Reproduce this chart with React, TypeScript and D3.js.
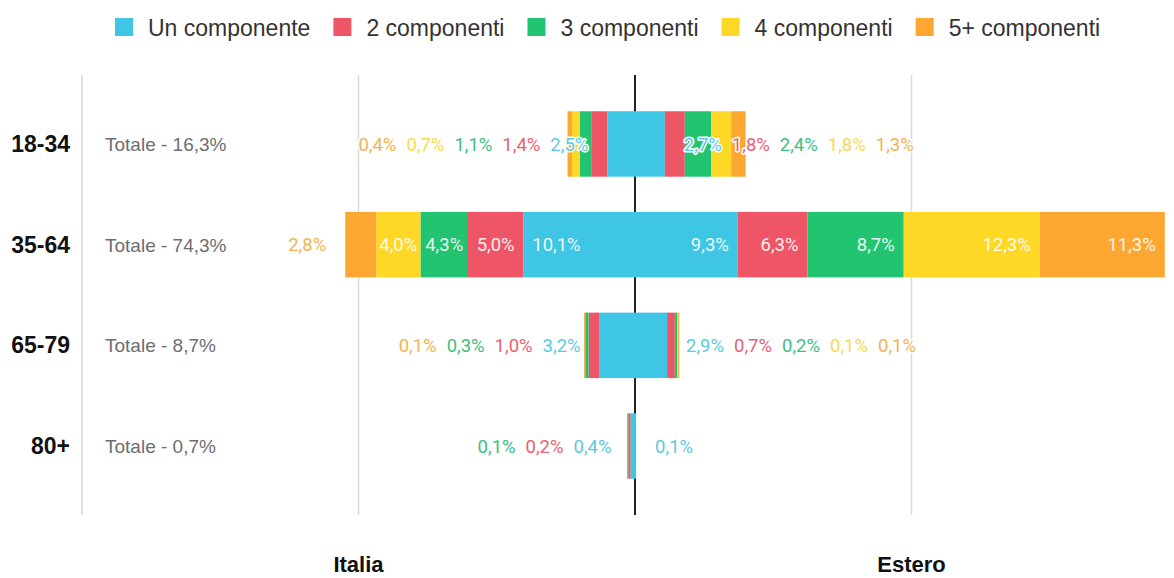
import React from "react";
import * as d3 from "d3";

const ageGroups = ["18-34", "35-64", "65-79", "80+"];
const totals = [16.3, 74.3, 8.7, 0.7];
const seriesNames = ["Un componente", "2 componenti", "3 componenti", "4 componenti", "5+ componenti"];
const seriesColors = ["#3EC6E4", "#EE5566", "#22C471", "#FDD826", "#FBA731"];
const labelColors = ["#5CC9E2", "#EA5F6E", "#3BC07E", "#F8DA4E", "#F4B24E"];

// Italia (left side), one array per series, by age group
const italiaUno = [2.5, 10.1, 3.2, 0.4];
const italiaDue = [1.4, 5.0, 1.0, 0.2];
const italiaTre = [1.1, 4.3, 0.3, 0.1];
const italiaQuattro = [0.7, 4.0, 0, 0];
const italiaCinque = [0.4, 2.8, 0.1, 0];

// Estero (right side)
const esteroUno = [2.7, 9.3, 2.9, 0.1];
const esteroDue = [1.8, 6.3, 0.7, 0];
const esteroTre = [2.4, 8.7, 0.2, 0];
const esteroQuattro = [1.8, 12.3, 0.1, 0];
const esteroCinque = [1.3, 11.3, 0.1, 0];

const sideTitles = ["Italia", "Estero"];
const gridValues = [-50, -25, 25, 50];

const W = 1174;
const H = 578;

const italia = [italiaUno, italiaDue, italiaTre, italiaQuattro, italiaCinque];
const estero = [esteroUno, esteroDue, esteroTre, esteroQuattro, esteroCinque];

const locale = d3.formatLocale({ decimal: ",", thousands: ".", grouping: [3], currency: ["", "€"] });
const fmt = locale.format(".1f");
const pct = (v: number) => fmt(v) + "%";

const ctx = typeof document !== "undefined" ? document.createElement("canvas").getContext("2d") : null;
function measure(text: string, font: string): number {
  if (!ctx) return text.length * 9;
  ctx.font = font;
  return ctx.measureText(text).width;
}

const LABEL_SIZE = 18.5;
const LABEL_FONT = `${LABEL_SIZE}px Roboto`;
const LEGEND_FONT = "23px 'Liberation Sans'";

export default function App() {
  const x = d3.scaleLinear().domain([-50, 50]).range([82, 1188]);
  const y = d3
    .scaleBand<string>()
    .domain(ageGroups)
    .range([75, 515])
    .paddingInner(0.35)
    .paddingOuter(0.36);
  const bw = y.bandwidth();
  const pxPer = x(1) - x(0);

  const segments: any[] = [];
  const labels: any[] = [];

  ageGroups.forEach((g, gi) => {
    const cy = (y(g) as number) + bw / 2;
    [italia, estero].forEach((side, si) => {
      const dir = si === 0 ? -1 : 1;
      let cum = 0;
      let cursor: number | null = null;
      side.forEach((arr, k) => {
        const v = arr[gi];
        const inner = cum;
        const outer = cum + v;
        cum = outer;
        if (v <= 0) return;
        const x0 = x(dir * inner);
        const x1 = x(dir * outer);
        segments.push({
          key: `${g}-${si}-${k}`,
          x: Math.min(x0, x1),
          w: Math.abs(x1 - x0),
          y: y(g),
          color: seriesColors[k],
        });
        const text = pct(v);
        const tw = measure(text, LABEL_FONT);
        const segW = v * pxPer;
        if (cursor === null && segW >= tw + 2) {
          const pad = Math.min(9, (segW - tw) / 2);
          const d = outer * pxPer - pad;
          labels.push({
            key: `l-${g}-${si}-${k}`,
            text,
            x: x(0) + dir * d,
            anchor: si === 0 ? "start" : "end",
            y: cy,
            fill: "#ffffff",
            inside: true,
          });
        } else {
          if (cursor === null) cursor = outer * pxPer + 19;
          labels.push({
            key: `l-${g}-${si}-${k}`,
            text,
            x: x(0) + dir * cursor,
            anchor: si === 0 ? "end" : "start",
            y: cy,
            fill: labelColors[k],
            inside: false,
          });
          cursor += tw + 10;
        }
      });
    });
  });

  // legend layout
  let lx = 115;
  const legendItems = seriesNames.map((name, i) => {
    const item = { name, x: lx, color: seriesColors[i] };
    lx += 33 + measure(name, LEGEND_FONT) + 23;
    return item;
  });

  return (
    <svg
      width={W}
      height={H}
      style={{ position: "absolute", left: 0, top: 0, background: "#fff" }}
    >
      {/* legend */}
      <g>
        {legendItems.map((it) => (
          <g key={it.name}>
            <rect x={it.x} y={18} width={18} height={18} fill={it.color} />
            <text
              x={it.x + 33}
              y={36}
              fontFamily="'Liberation Sans', Arial, sans-serif"
              fontSize={23}
              fill="#333"
            >
              {it.name}
            </text>
          </g>
        ))}
      </g>

      {/* grid */}
      {gridValues.map((v) => (
        <line
          key={v}
          x1={x(v)}
          x2={x(v)}
          y1={75}
          y2={515}
          stroke="#d9d9d9"
          strokeWidth={1.5}
        />
      ))}

      {/* zero line */}
      <line x1={x(0)} x2={x(0)} y1={75} y2={515} stroke="#222" strokeWidth={2} />

      {/* bars */}
      {segments.map((s) => (
        <rect key={s.key} x={s.x} y={s.y} width={s.w} height={bw} fill={s.color} />
      ))}

      {/* value labels */}
      {labels.map((l) => (
        <text
          key={l.key}
          x={l.x}
          y={l.y}
          dy="0.36em"
          textAnchor={l.anchor}
          fontFamily="Roboto, sans-serif"
          fontSize={LABEL_SIZE}
          fill={l.fill}
          fillOpacity={l.inside ? 0.92 : 1}
          stroke={l.inside ? "none" : "#fff"}
          strokeWidth={l.inside ? 0 : 3}
          strokeLinejoin="round"
          style={{ paintOrder: "stroke" }}
        >
          {l.text}
        </text>
      ))}

      {/* age group labels */}
      {ageGroups.map((g, i) => {
        const cy = (y(g) as number) + bw / 2;
        return (
          <g key={"a" + g}>
            <text
              x={70}
              y={cy + 8}
              textAnchor="end"
              fontFamily="'Liberation Sans', Arial, sans-serif"
              fontWeight="bold"
              fontSize={23}
              fill="#111"
            >
              {g}
            </text>
            <text
              x={105}
              y={cy + 7}
              fontFamily="'Liberation Sans', Arial, sans-serif"
              fontSize={19}
              fill="#6e6e6e"
            >
              {"Totale - " + pct(totals[i])}
            </text>
          </g>
        );
      })}

      {/* side titles */}
      {sideTitles.map((t, i) => (
        <text
          key={t}
          x={x(i === 0 ? -25 : 25)}
          y={572}
          textAnchor="middle"
          fontFamily="'Liberation Sans', Arial, sans-serif"
          fontWeight="bold"
          fontSize={22}
          fill="#111"
        >
          {t}
        </text>
      ))}
    </svg>
  );
}
